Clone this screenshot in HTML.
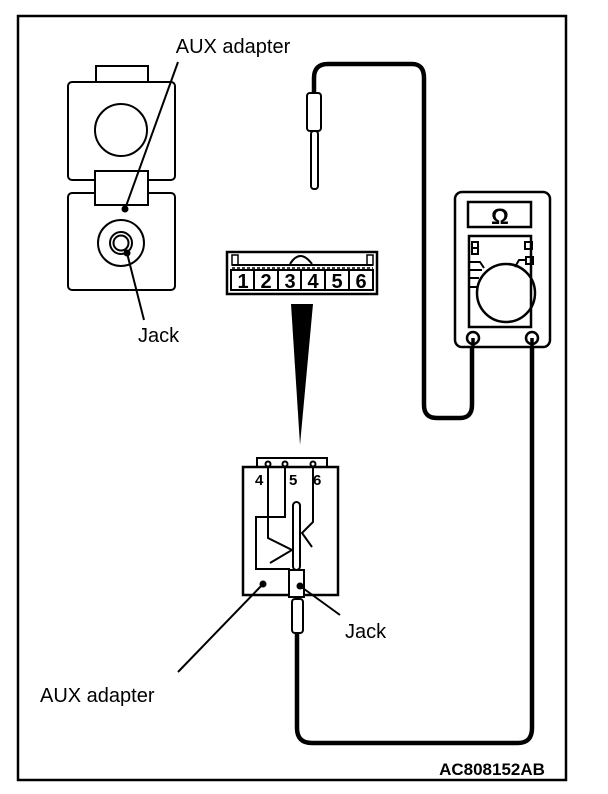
<!DOCTYPE html>
<html><head><style>
body{margin:0;background:#fff;}
svg{display:block;}
text{font-family:"Liberation Sans",Arial,sans-serif;fill:#000;}
</style></head><body>
<svg width="608" height="794" viewBox="0 0 608 794" xmlns="http://www.w3.org/2000/svg">
<rect x="18" y="16" width="548" height="764" fill="none" stroke="#000" stroke-width="2.5"/>
<g fill="none" stroke="#000" stroke-width="2">
<rect x="96" y="66" width="52" height="17" fill="#fff"/>
<rect x="68" y="82" width="107" height="98" rx="4" fill="#fff"/>
<circle cx="121" cy="130" r="26"/>
<rect x="68" y="193" width="107" height="97" rx="4" fill="#fff"/>
<rect x="95" y="171" width="53" height="34" fill="#fff"/>
<circle cx="121" cy="243" r="23"/>
<circle cx="121" cy="243" r="11"/>
<circle cx="121" cy="243" r="7.5"/>
<line x1="178" y1="62" x2="125" y2="209"/>
<line x1="127" y1="253" x2="144" y2="320"/>
</g>
<circle cx="125" cy="209" r="3.5"/>
<circle cx="127" cy="253" r="3.5"/>
<text x="233" y="53" font-size="20" text-anchor="middle">AUX adapter</text>
<text x="138" y="342" font-size="20">Jack</text>

<path d="M314 95 V78 Q314 64 328 64 H412 Q424 64 424 78 V405 Q424 418 437 418 H460 Q472 418 472 405 V340" fill="none" stroke="#000" stroke-width="4.5"/>
<path d="M297 633 V728 Q297 743 312 743 H518 Q532 743 532 728 V340" fill="none" stroke="#000" stroke-width="4.5"/>
<g fill="#fff" stroke="#000" stroke-width="2">
<rect x="307" y="93" width="14" height="38" rx="3"/>
<rect x="311" y="131" width="7" height="58" rx="3"/>
</g>

<g fill="none" stroke="#000">
<rect x="227" y="252" width="150" height="42" stroke-width="2.5"/>
<rect x="232" y="255" width="6" height="10" stroke-width="1.5"/>
<rect x="367" y="255" width="6" height="10" stroke-width="1.5"/>
<line x1="232" y1="265" x2="373" y2="265" stroke-width="2"/>
<line x1="232" y1="268" x2="373" y2="268" stroke-width="1.5" stroke-dasharray="3,2"/>
<path d="M290 264 Q300 248 312 264" stroke-width="2"/>
<rect x="231" y="270" width="142" height="20" stroke-width="2"/>
<line x1="254" y1="270" x2="254" y2="290" stroke-width="2"/>
<line x1="278" y1="270" x2="278" y2="290" stroke-width="2"/>
<line x1="301" y1="270" x2="301" y2="290" stroke-width="2"/>
<line x1="325" y1="270" x2="325" y2="290" stroke-width="2"/>
<line x1="349" y1="270" x2="349" y2="290" stroke-width="2"/>
</g>
<g font-size="20" font-weight="bold" text-anchor="middle">
<text x="243" y="288">1</text><text x="266" y="288">2</text><text x="290" y="288">3</text>
<text x="313" y="288">4</text><text x="337" y="288">5</text><text x="361" y="288">6</text>
</g>
<polygon points="291,304 313,304 300,445" fill="#000"/>

<g fill="none" stroke="#000" stroke-width="2">
<rect x="257" y="458" width="70" height="9" fill="#fff"/>
<rect x="243" y="467" width="95" height="128" stroke-width="2.5"/>
<circle cx="268" cy="464" r="2.5" fill="#fff"/>
<circle cx="285" cy="464" r="2.5" fill="#fff"/>
<circle cx="313" cy="464" r="2.5" fill="#fff"/>
<path d="M268 466 V538 L292 550 L270 563"/>
<path d="M285 466 V517 H256 V569 H290"/>
<path d="M313 466 V522 L302 533 L312 547"/>
<rect x="293" y="502" width="7" height="68" rx="3.5" fill="#fff"/>
<rect x="289" y="570" width="15" height="27" fill="#fff"/>
<rect x="292" y="599" width="11" height="34" rx="3" fill="#fff"/>
<line x1="263" y1="584" x2="178" y2="672"/>
<line x1="300" y1="586" x2="340" y2="615"/>
</g>
<circle cx="263" cy="584" r="3.5"/>
<circle cx="300" cy="586" r="3.5"/>
<g font-size="15" font-weight="bold">
<text x="255" y="485">4</text><text x="289" y="485">5</text><text x="313" y="485">6</text>
</g>
<text x="345" y="638" font-size="20">Jack</text>
<text x="40" y="702" font-size="20">AUX adapter</text>

<g fill="none" stroke="#000" stroke-width="2.5">
<rect x="455" y="192" width="95" height="155" rx="7" fill="#fff"/>
<rect x="468" y="202" width="63" height="25"/>
<rect x="469" y="236" width="62" height="91"/>
<circle cx="506" cy="293" r="29"/>
<rect x="472" y="242" width="6" height="12" stroke-width="2"/>
<line x1="472" y1="248" x2="478" y2="248" stroke-width="2"/>
<rect x="525" y="242" width="7" height="7" stroke-width="2"/>
<rect x="526" y="257" width="7" height="7" stroke-width="2"/>
<path d="M469 262 H480 L484 268" stroke-width="2"/>
<path d="M526 260 H519 L515 267" stroke-width="2"/>
<line x1="469" y1="270" x2="482" y2="270" stroke-width="2"/>
<line x1="469" y1="278" x2="479" y2="278" stroke-width="2"/>
<line x1="469" y1="287" x2="478" y2="287" stroke-width="2"/>
<circle cx="473" cy="338" r="6" fill="#fff"/>
<circle cx="532" cy="338" r="6" fill="#fff"/>
</g>
<line x1="473" y1="338" x2="473" y2="348" stroke="#000" stroke-width="3.5"/>
<line x1="532" y1="338" x2="532" y2="348" stroke="#000" stroke-width="3.5"/>
<text x="500" y="224" font-size="22" font-weight="bold" text-anchor="middle">Ω</text>

<text x="492" y="775" font-size="17" font-weight="bold" text-anchor="middle">AC808152AB</text>
</svg>
</body></html>
